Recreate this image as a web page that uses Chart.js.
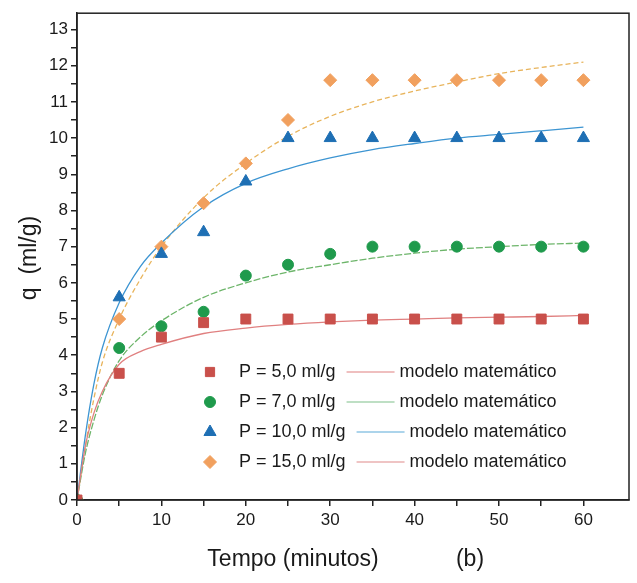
<!DOCTYPE html>
<html>
<head>
<meta charset="utf-8">
<script src="https://cdn.jsdelivr.net/npm/chart.js@4/dist/chart.umd.min.js"></script>
<style>
  html, body { margin: 0; padding: 0; background: #fff; }
  #wrap { width: 637px; height: 583px; }
</style>
</head>
<body>
<div id="wrap"><canvas id="kinetics"></canvas></div>
<script>
// measured points (minutes, ml/g)
var tempo = [0, 5, 10, 15, 20, 25, 30, 35, 40, 45, 50, 55, 60];
var qP5  = [0, 3.5, 4.5, 4.9, 5.0, 5.0, 5.0, 5.0, 5.0, 5.0, 5.0, 5.0, 5.0];
var qP7  = [0, 4.2, 4.8, 5.2, 6.2, 6.5, 6.8, 7.0, 7.0, 7.0, 7.0, 7.0, 7.0];
var qP10 = [0, 5.6, 6.8, 7.4, 8.8, 10.0, 10.0, 10.0, 10.0, 10.0, 10.0, 10.0, 10.0];
var qP15 = [0, 5.0, 7.0, 8.2, 9.3, 10.5, 11.6, 11.6, 11.6, 11.6, 11.6, 11.6, 11.6];

// model curves
var tempoModelo = [0, 1, 2, 3, 5, 7.5, 10, 15, 20, 25, 30, 35, 40, 45, 50, 55, 60];
var modP5  = [0, 1.5, 2.4, 3.0, 3.75, 4.1, 4.3, 4.6, 4.75, 4.85, 4.92, 4.97, 5.0, 5.03, 5.05, 5.07, 5.1];
var modP7  = [0, 1.3, 2.2, 2.9, 3.85, 4.5, 4.95, 5.6, 6.0, 6.3, 6.5, 6.68, 6.82, 6.93, 7.0, 7.06, 7.1];
var modP10 = [0, 1.8, 3.2, 4.2, 5.45, 6.45, 7.1, 8.1, 8.75, 9.15, 9.45, 9.68, 9.85, 10.0, 10.1, 10.2, 10.3];
var modP15 = [0, 1.5, 2.8, 3.8, 5.0, 6.1, 7.0, 8.35, 9.3, 10.05, 10.6, 11.0, 11.3, 11.55, 11.78, 11.95, 12.1];

var legendLabels = ['P = 5,0 ml/g', 'P = 7,0 ml/g', 'P = 10,0 ml/g', 'P = 15,0 ml/g'];
var modelLabel = 'modelo matemático';

function pairs(xs, ys) {
  return xs.map(function (x, i) { return { x: x, y: ys[i] }; });
}

var FONT = '"Liberation Sans", Arial, sans-serif';
var TXT = '#1a1a1a';

var red = '#c9504b', green = '#1f9a4c', blue = '#1e6fb4', orange = '#f1a05e';

var curve = function (ys, color, dash) {
  return {
    type: 'line', label: modelLabel, data: pairs(tempoModelo, ys),
    borderColor: color, borderWidth: 1.3, borderDash: dash || [],
    pointRadius: 0, cubicInterpolationMode: 'monotone', fill: false, order: 2
  };
};
var marks = function (ys, color, style, r) {
  return {
    type: 'scatter', data: pairs(tempo, ys),
    backgroundColor: color, borderColor: color, borderWidth: 1,
    pointStyle: style, pointRadius: r, order: 1
  };
};

var datasets = [
  curve(modP5, '#e08080'),
  curve(modP7, '#6db56a', [7, 2]),
  curve(modP10, '#3d95d2'),
  curve(modP15, '#e8b45c', [5, 3]),
  Object.assign(marks(qP5, red, 'rect', 7), { label: legendLabels[0] }),
  Object.assign(marks(qP7, green, 'circle', 5.5), { label: legendLabels[1] }),
  Object.assign(marks(qP10, blue, 'triangle', 7), { label: legendLabels[2] }),
  Object.assign(marks(qP15, orange, 'rectRot', 6.5), { label: legendLabels[3] })
];

var legendRows = [
  { style: 'rect', color: red, r: 6.5, line: '#e08080' },
  { style: 'circle', color: green, r: 5.5, line: '#7fbf8a' },
  { style: 'triangle', color: blue, r: 7, line: '#5aaad8' },
  { style: 'rectRot', color: orange, r: 6.5, line: '#e08a8a' }
];

var decor = {
  id: 'decor',
  afterDraw: function (chart) {
    var ctx = chart.ctx, a = chart.chartArea;
    ctx.save();
    // frame
    ctx.strokeStyle = '#222';
    ctx.lineWidth = 1.5;
    ctx.strokeRect(a.left, a.top, a.right - a.left, a.bottom - a.top);

    // legend
    ctx.font = '18px ' + FONT;
    ctx.textBaseline = 'middle';
    var ys = [372, 402, 432, 462];
    legendRows.forEach(function (row, i) {
      var y = ys[i];
      ctx.fillStyle = row.color;
      ctx.strokeStyle = row.color;
      ctx.lineWidth = 1;
      Chart.helpers.drawPoint(ctx, { pointStyle: row.style, radius: row.r, rotation: 0, borderWidth: 1 }, 210, y);
      ctx.fillStyle = TXT;
      ctx.textAlign = 'left';
      ctx.fillText(legendLabels[i], 239, y);
      var x1 = 239 + ctx.measureText(legendLabels[i]).width + 11;
      ctx.strokeStyle = row.line;
      ctx.lineWidth = 1.2;
      ctx.beginPath();
      ctx.moveTo(x1, y);
      ctx.lineTo(x1 + 48, y);
      ctx.stroke();
      ctx.fillText(modelLabel, x1 + 53, y);
    });

    // axis titles
    ctx.font = '23px ' + FONT;
    ctx.textAlign = 'center';
    ctx.fillStyle = TXT;
    ctx.fillText('Tempo (minutos)', 293, 560);
    ctx.fillText('(b)', 470, 560);
    ctx.translate(30, 258);
    ctx.rotate(-Math.PI / 2);
    ctx.fillText('q  (ml/g)', 0, 0);
    ctx.restore();
  }
};

new Chart(document.getElementById('kinetics'), {
  type: 'scatter',
  data: { datasets: datasets },
  options: {
    responsive: true,
    maintainAspectRatio: false,
    animation: false,
    layout: { padding: { left: 0, right: 8, top: 9, bottom: 0 } },
    plugins: {
      legend: { display: false },
      tooltip: { enabled: false }
    },
    scales: {
      x: {
        type: 'linear', min: 0, max: 65.4,
        afterBuildTicks: function (s) { s.ticks = s.ticks.filter(function (t) { return t.value <= 60; }); },
        afterFit: function (s) { s.height = 83; },
        ticks: {
          stepSize: 5, includeBounds: false, maxRotation: 0, autoSkip: false, padding: 4,
          color: TXT, font: { family: FONT, size: 17 },
          callback: function (v) { return v % 10 === 0 ? v : ''; }
        },
        grid: { drawOnChartArea: false, tickLength: 6, color: '#222', lineWidth: 1.5 },
        border: { color: '#222', width: 1.5 }
      },
      y: {
        type: 'linear', min: 0, max: 13.45,
        afterBuildTicks: function (s) { s.ticks = s.ticks.filter(function (t) { return t.value <= 13; }); },
        afterFit: function (s) { s.width = 77; },
        ticks: {
          stepSize: 0.5, includeBounds: false, autoSkip: false, padding: 3,
          color: TXT, font: { family: FONT, size: 17 },
          callback: function (v) { return Number.isInteger(v) ? v : ''; }
        },
        grid: { drawOnChartArea: false, tickLength: 6, color: '#222', lineWidth: 1.5 },
        border: { color: '#222', width: 1.5 }
      }
    }
  },
  plugins: [decor]
});
</script>
</body>
</html>
